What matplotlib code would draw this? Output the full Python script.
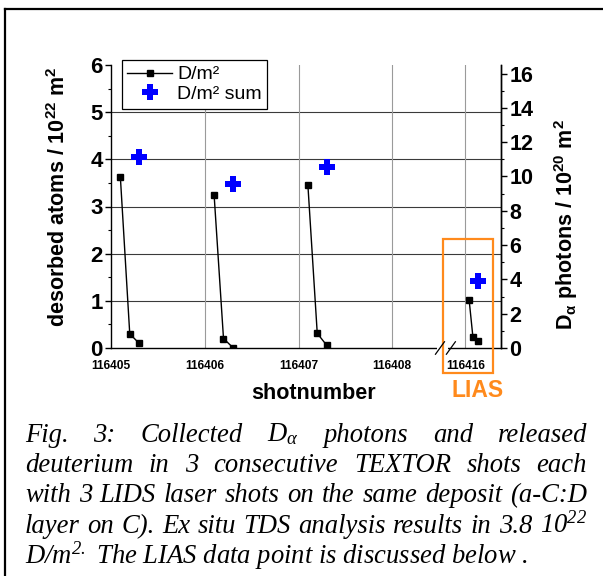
import matplotlib
matplotlib.use("Agg")
import matplotlib.pyplot as plt
from matplotlib.patches import Rectangle
from matplotlib.lines import Line2D
import numpy as np

plt.rcParams['mathtext.default'] = 'regular'
plt.rcParams['font.family'] = ['Liberation Sans', 'DejaVu Sans']

# ---------------- data ----------------
shot_ticks = [116405, 116406, 116407, 116408, 116416]
shot_labels = ['116405', '116406', '116407', '116408', '116416']

# D/m^2 per laser shot (three laser shots per TEXTOR shot)
series_x = [
    [116405.1, 116405.2, 116405.3],
    [116406.1, 116406.2, 116406.3],
    [116407.1, 116407.2, 116407.3],
    [116416.04, 116416.08, 116416.13],
]
series_y = [
    [3.62, 0.30, 0.10],
    [3.24, 0.20, 0.01],
    [3.46, 0.31, 0.06],
    [1.02, 0.24, 0.15],
]
sum_x = [116405.3, 116406.3, 116407.3, 116416.13]
sum_y = [4.04, 3.47, 3.84, 1.43]

left_ylim = (0, 6)
right_ylim = (0, 16.5)


def brk(x):
    """Broken x axis: shots after the break are drawn closer."""
    x = np.asarray(x, dtype=float)
    return np.where(x < 116409, x - 116405, x - 116416 + 3.78)


# ---------------- figure ----------------
W, H = 603, 576
fig = plt.figure(figsize=(W / 100, H / 100), dpi=100)
ax = fig.add_axes([111 / W, 1 - 348 / H, 390 / W, 283 / H])

# figure frame (left & top border)
fig.add_artist(Line2D([5 / W, 5 / W], [-0.01, 1 - 9 / H], color='black', lw=1.6,
                      transform=fig.transFigure))
fig.add_artist(Line2D([5 / W, 1.01], [1 - 9 / H, 1 - 9 / H], color='black', lw=1.6,
                      transform=fig.transFigure))

ax.set_xlim(0, 4.16)
ax.set_ylim(*left_ylim)

# grid
for y in range(1, 6):
    ax.axhline(y, color='#3a3a3a', lw=0.8, zorder=1)
for t in shot_ticks[1:]:
    ax.axvline(float(brk(t)), color='#9a9a9a', lw=0.8, zorder=1)

first = True
for xs, ys in zip(series_x, series_y):
    ax.plot(brk(xs), ys, color='black', lw=1.0, marker='s', markersize=5,
            markerfacecolor='black', markeredgecolor='black', zorder=4,
            label='D/m²' if first else None)
    first = False
ax.plot(brk(sum_x), sum_y, linestyle='none', marker='P', markersize=11,
        color='#0000ff', markeredgewidth=0, zorder=5, label='D/m² sum')

ax.spines['top'].set_visible(False)
ax.spines['left'].set_linewidth(1.0)
ax.spines['bottom'].set_linewidth(1.0)
ax.spines['right'].set_linewidth(1.0)

ax.set_xticks([float(brk(t)) for t in shot_ticks])
ax.set_xticklabels(shot_labels, fontsize=8.6, fontweight='bold')
ax.tick_params(axis='x', length=0, pad=8.5)

ax.set_yticks(range(0, 7))
ax.set_yticks(np.arange(0.5, 6, 1.0), minor=True)
ax.set_yticklabels([str(v) for v in range(0, 7)], fontsize=16, fontweight='bold')
ax.tick_params(axis='y', which='major', direction='out', length=4, width=1, pad=2)
ax.tick_params(axis='y', which='minor', direction='out', length=2.5, width=0.8)

ax.set_ylabel('desorbed atoms / 10$^{22}$ m$^{2}$', fontsize=15.5, fontweight='bold')
ax.yaxis.set_label_coords(-0.105, 0.534)
ax.set_xlabel('shotnumber', fontsize=15.5, fontweight='bold')
ax.xaxis.set_label_coords(0.518, -0.124)

# right axis
ax2 = ax.twinx()
ax2.set_ylim(*right_ylim)
for s in ['top', 'left', 'bottom']:
    ax2.spines[s].set_visible(False)
ax2.spines['right'].set_linewidth(1.0)
ax2.set_yticks(range(0, 17, 2))
ax2.set_yticks(range(1, 17, 2), minor=True)
ax2.set_yticklabels([str(v) for v in range(0, 17, 2)], fontsize=15.5, fontweight='bold')
ax2.tick_params(axis='y', which='major', direction='out', length=4, width=1, pad=2)
ax2.tick_params(axis='y', which='minor', direction='out', length=2.5, width=0.8)
ax2.set_ylabel(r'D$_{\alpha}$ photons / 10$^{20}$ m$^{2}$', fontsize=15.5, fontweight='bold')
ax2.yaxis.set_label_coords(1.131, 0.435)

# axis break marks
ax.add_artist(Rectangle((0.835, -0.01), 0.03, 0.02, transform=ax.transAxes,
                        facecolor='white', edgecolor='none', clip_on=False, zorder=6))
for dx in (0.0, 0.028):
    ax.add_artist(Line2D([0.832 + dx, 0.855 + dx], [-0.022, 0.022], transform=ax.transAxes,
                         color='black', lw=0.9, clip_on=False, zorder=7))

# LIAS box
ax.add_patch(Rectangle((0.850, -0.088), 0.130, 0.473, transform=ax.transAxes,
                       fill=False, edgecolor='#ff8a1c', lw=1.6, clip_on=False, zorder=6))
ax.text(0.941, -0.150, 'LIAS', transform=ax.transAxes, color='#ff8a1c',
        fontsize=16.5, fontweight='bold', ha='center', va='center')

leg = ax.legend(loc='upper left', bbox_to_anchor=(0.027, 1.018), borderaxespad=0,
                fontsize=14, frameon=True, fancybox=False, edgecolor='black',
                framealpha=1, handlelength=2.3, handletextpad=0.25,
                borderpad=0.3, labelspacing=0.1)
leg.get_frame().set_linewidth(0.9)
leg.set_zorder(10)

# ---------------- caption (justified) ----------------
cap_lines = [
    r'Fig. 3: Collected D$_{\alpha}$ photons and released',
    'deuterium in 3 consecutive TEXTOR shots each',
    'with 3 LIDS laser shots on the same deposit (a-C:D',
    'layer on C). Ex situ TDS analysis results in 3.8 10$^{22}$',
    'D/m$^{2.}$ The LIAS data point is discussed below .',
]
cap_font = dict(family='Liberation Serif', style='italic', fontsize=19.2)
x0, x1 = 25, 587
base0, dy = 441.5, 30.5
renderer = fig.canvas.get_renderer()
for i, line in enumerate(cap_lines):
    yb = 1 - (base0 + i * dy) / H
    if i == len(cap_lines) - 1:
        fig.text(x0 / W, yb, line, ha='left', va='baseline', **cap_font)
        continue
    words = line.split(' ')
    texts = [fig.text(0, yb, w, ha='left', va='baseline', **cap_font) for w in words]
    widths = [t.get_window_extent(renderer).width for t in texts]
    gap = (x1 - x0 - sum(widths)) / (len(words) - 1)
    x = x0
    for t, w in zip(texts, widths):
        t.set_x(x / W)
        x += w + gap

fig.savefig('out.png', dpi=100)
